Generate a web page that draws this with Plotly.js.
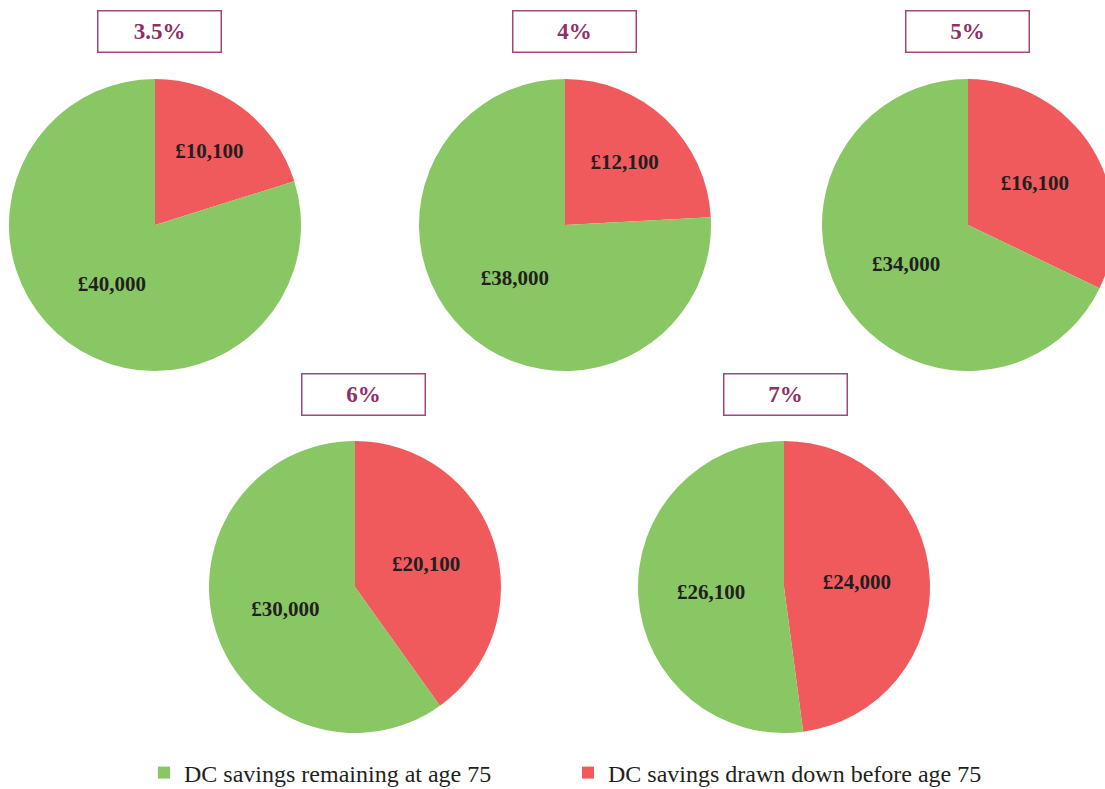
<!DOCTYPE html>
<html><head><meta charset="utf-8">
<script src="https://cdn.plot.ly/plotly-3.0.1.min.js"></script>
<style>html,body{margin:0;padding:0;overflow:hidden;background:#fff;width:1105px;height:789px}#chart{width:1130px;height:789px}</style>
</head><body><div id="chart"></div>
<script>
const categories = ["DC savings drawn down before age 75", "DC savings remaining at age 75"];
const scenarios = ["3.5%", "4%", "5%", "6%", "7%"];
const drawnDown = [10100, 12100, 16100, 20100, 24000];
const remaining = [40000, 38000, 34000, 30000, 26100];
const colors = ["#f05a5c", "#88c764"];

const W = 1130, H = 789;
// pie centres in px and radius
const centres = [[155, 225], [565, 225], [968, 225], [355, 587], [784, 587]];
const R = 146;
const titlePos = [[159, 32], [574, 32], [967, 32], [363, 394], [786, 394]];
const labelFont = {family: "Liberation Serif", size: 21, color: "#231f20", weight: "bold"};

const traces = scenarios.map((s, i) => {
  const [cx, cy] = centres[i];
  return {
    type: "pie",
    labels: categories,
    values: [drawnDown[i], remaining[i]],
    sort: false,
    direction: "clockwise",
    rotation: 0,
    marker: {colors: colors, line: {width: 0}},
    texttemplate: "<b>£%{value:,.0f}</b>",
    textposition: "inside",
    insidetextorientation: "horizontal",
    textfont: labelFont,
    hoverinfo: "label+value",
    domain: {x: [(cx - R) / W, (cx + R) / W], y: [1 - (cy + R) / H, 1 - (cy - R) / H]},
    name: s
  };
});

const annotations = scenarios.map((s, i) => {
  const [tx, ty] = titlePos[i];
  return {
    text: "<b>" + s + "</b>",
    xref: "paper", yref: "paper",
    x: tx / W, y: 1 - ty / H,
    xanchor: "center", yanchor: "middle",
    showarrow: false,
    width: 122, height: 40,
    bordercolor: "#a2477c", borderwidth: 1.5, borderpad: 0,
    font: {family: "Liberation Serif", size: 23, color: "#8f2f66"}
  };
});

const layout = {
  width: W, height: H,
  margin: {l: 0, r: 0, t: 0, b: 0, autoexpand: false},
  paper_bgcolor: "#ffffff",
  showlegend: true,
  legend: {
    orientation: "h",
    x: 144 / W, xanchor: "left",
    y: 1 - 773 / H, yanchor: "middle",
    entrywidth: 379,
    font: {family: "Liberation Serif", size: 24, color: "#231f20"},
    traceorder: "reversed"
  },
  annotations: annotations
};

Plotly.newPlot("chart", traces, layout, {displayModeBar: false, responsive: false});
</script></body></html>
